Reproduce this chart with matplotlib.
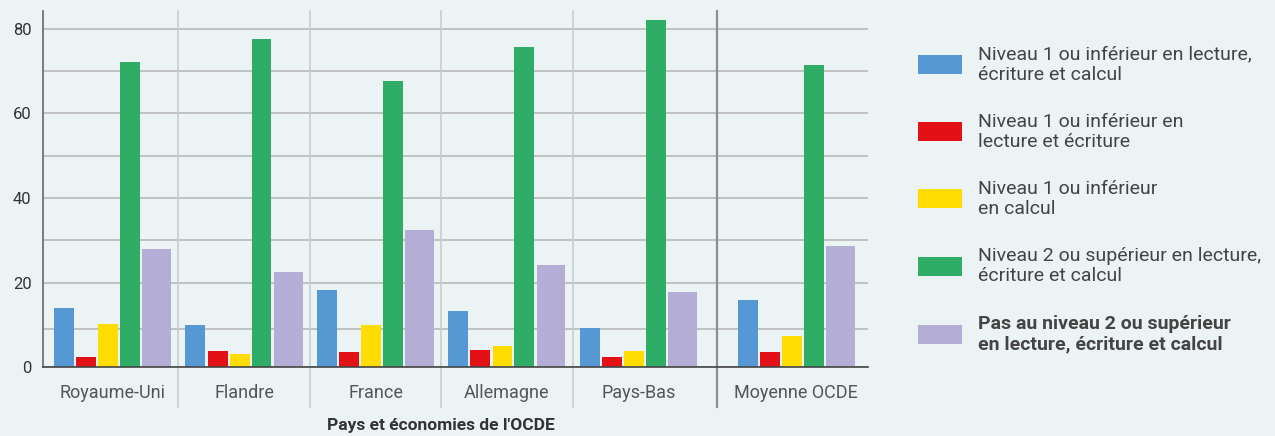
import matplotlib.pyplot as plt
import numpy as np
from matplotlib.patches import Rectangle

plt.rcParams['font.family'] = ['Roboto', 'DejaVu Sans']

countries = ['Royaume-Uni', 'Flandre', 'France', 'Allemagne', 'Pays-Bas', 'Moyenne OCDE']
niv1_tout = [14.1, 10.1, 18.2, 13.4, 9.4, 16.0]
niv1_lect = [2.5, 3.9, 3.5, 4.2, 2.5, 3.7]
niv1_calc = [10.3, 3.2, 9.9, 5.1, 3.9, 7.5]
niv2_tout = [72.2, 77.6, 67.7, 75.7, 82.1, 71.5]
pas_niv2 = [27.9, 22.4, 32.4, 24.1, 17.9, 28.6]

labels = ['Niveau 1 ou inférieur en lecture,\nécriture et calcul',
          'Niveau 1 ou inférieur en\nlecture et écriture',
          'Niveau 1 ou inférieur\nen calcul',
          'Niveau 2 ou supérieur en lecture,\nécriture et calcul',
          'Pas au niveau 2 ou supérieur\nen lecture, écriture et calcul']
colors = ['#5598d4', '#e31016', '#ffdd00', '#2fad67', '#b4add6']
bg = '#ecf3f5'

series = [niv1_tout, niv1_lect, niv1_calc, niv2_tout, pas_niv2]
# the OECD average sits a bit further right
x = np.array([0, 1, 2, 3, 4, 5.2])
offsets = [-0.369, -0.2015, -0.034, 0.133, 0.335]
widths = [0.152, 0.152, 0.152, 0.152, 0.22]

fig = plt.figure(figsize=(12.75, 4.36), dpi=100, facecolor=bg)
ax = fig.add_axes([0.0335, 0.1576, 0.6475, 0.8172], facecolor=bg)

for vals, off, w, c in zip(series, offsets, widths, colors):
    ax.bar(x + off, vals, width=w, color=c, zorder=3)

ax.set_xlim(-0.531, 5.748)
ax.set_ylim(0, 84.2)
ax.set_yticks([0, 20, 40, 60, 80])
ax.set_yticks([9, 30, 50, 70], minor=True)
ax.grid(axis='y', which='both', color='#b5b5b5', linewidth=1.1, zorder=1)
ax.tick_params(axis='y', which='both', length=0, labelsize=12, labelcolor='#333333', pad=8)
ax.set_xticks(x)
ax.set_xticklabels(countries)
ax.tick_params(axis='x', length=0, labelsize=13, labelcolor='#555555', pad=12)

for s in ['top', 'right']:
    ax.spines[s].set_visible(False)
ax.spines['left'].set_color('#666666')
ax.spines['left'].set_linewidth(1.2)
ax.spines['bottom'].set_color('#444444')
ax.spines['bottom'].set_linewidth(1.2)
ax.spines['bottom'].set_zorder(4)

for xd in [0.5, 1.5, 2.5, 3.5]:
    ax.axvline(xd, ymin=-0.111, ymax=1, color='#c9cccd', linewidth=1.2, clip_on=False, zorder=2)
ax.axvline(4.6, ymin=-0.111, ymax=1, color='#8a8f90', linewidth=1.6, clip_on=False, zorder=2)

fig.text(0.346, 0.024, "Pays et économies de l'OCDE", ha='center', va='center',
         fontsize=12.5, fontweight='bold', color='#333333')

# legend drawn by hand
W, H = 1275, 436
centers = [65, 132, 199, 266, 334]
for lab, c, cy in zip(labels, colors, centers):
    fig.patches.append(Rectangle((918 / W, (H - cy - 9.5) / H), 44 / W, 19 / H,
                                 transform=fig.transFigure, facecolor=c, edgecolor='none'))
    fig.text(978.5 / W, (H - cy) / H, lab, ha='left', va='center', fontsize=14,
             color='#444444', linespacing=1.2,
             fontweight='bold' if lab.startswith('Pas') else 'normal')

fig.savefig('out.png', dpi=100, facecolor=bg)
